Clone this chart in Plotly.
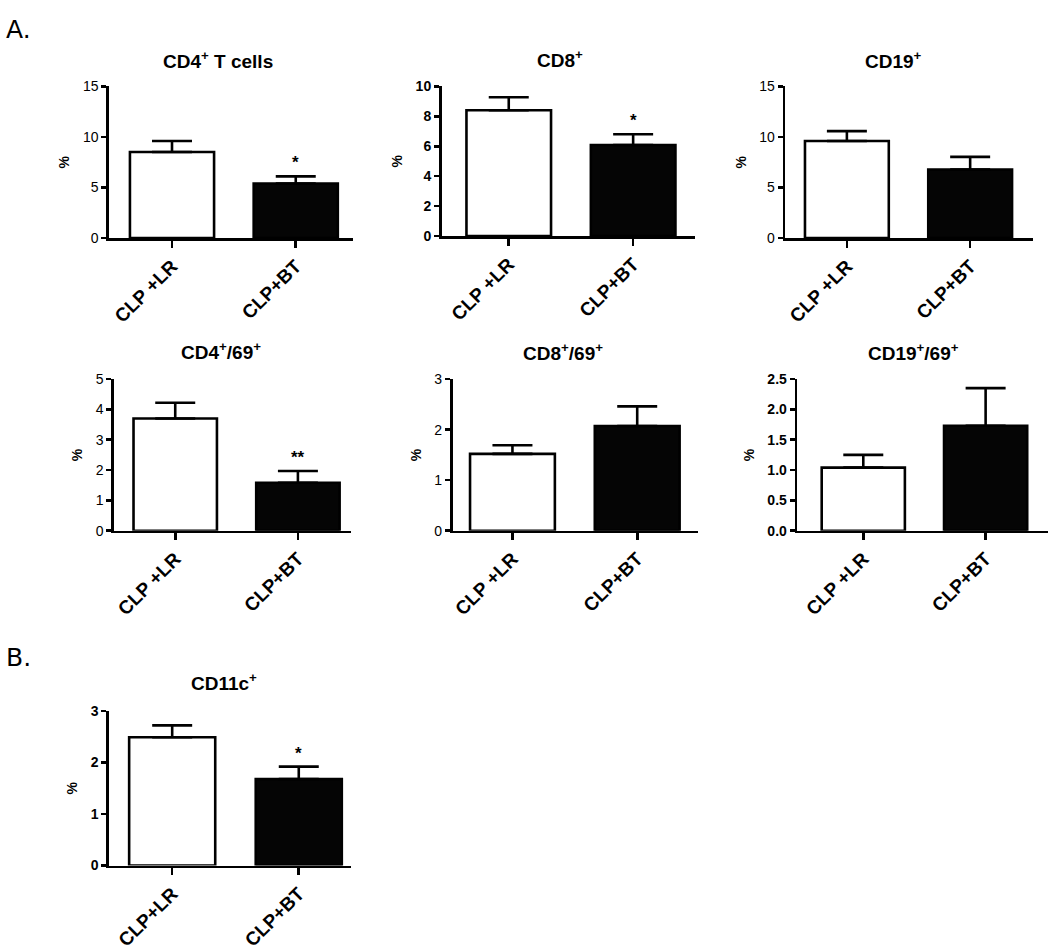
import plotly.graph_objects as go

# ---- data ----
panel_titles = ["CD4<sup>+</sup> T cells", "CD8<sup>+</sup>", "CD19<sup>+</sup>",
                "CD4<sup>+</sup>/69<sup>+</sup>", "CD8<sup>+</sup>/69<sup>+</sup>",
                "CD19<sup>+</sup>/69<sup>+</sup>", "CD11c<sup>+</sup>"]
groups_A = ["CLP +LR", "CLP+BT"]
groups_B = ["CLP+LR", "CLP+BT"]
panel_groups = [groups_A] * 6 + [groups_B]
lr_mean = [8.5, 8.4, 9.6, 3.7, 1.52, 1.04, 2.49]
lr_err = [1.1, 0.87, 0.97, 0.52, 0.17, 0.21, 0.23]
bt_mean = [5.4, 6.08, 6.77, 1.58, 2.07, 1.73, 1.68]
bt_err = [0.7, 0.72, 1.26, 0.39, 0.39, 0.62, 0.24]
bt_sig = ["*", "*", "", "**", "", "", "*"]
y_max = [15, 10, 15, 5, 3, 2.5, 3]
y_dtick = [5, 2, 5, 1, 1, 0.5, 1]
y_fmt = ["", "", "", "", "", ".1f", ""]
y_tick_weight = ["normal", "bold", "normal", "normal", "normal", "bold", "bold"]

# ---- layout (pixel boxes: left, right, top, bottom) ----
W, H = 1050, 951
boxes = [(108, 352, 80, 235), (441, 695, 80, 233), (785, 1033, 80, 235),
         (113, 350, 379, 534), (452, 698, 379, 534), (797, 1048, 379, 534),
         (108, 350, 718, 876)]
title_pos = [(217, 53), (560, 52), (893, 53), (220, 350), (563, 351), (913, 351), (223, 688)]
x_ranges = [(-0.51, 1.46), (-0.54, 1.5), (-0.5, 1.51), (-0.5, 1.43), (-0.48, 1.49),
            (-0.54, 1.51), (-0.5, 1.41)]


def px(x):
    return min(1.0, max(0.0, x / W))


def py(y):
    return min(1.0, max(0.0, 1 - y / H))


FONT = "Liberation Sans, Arial, sans-serif"
fig = go.Figure()
annotations = []

for i in range(7):
    ax = "" if i == 0 else str(i + 1)
    xa, ya = "x" + ax, "y" + ax
    cats = panel_groups[i]
    fig.add_trace(go.Bar(
        x=cats, y=[lr_mean[i], bt_mean[i]], xaxis=xa, yaxis=ya,
        width=0.68,
        marker=dict(color=["white", "#050505"], line=dict(color="black", width=2.6)),
        error_y=dict(type="data", symmetric=False, array=[lr_err[i], bt_err[i]],
                     arrayminus=[0, 0], color="black", thickness=2.6, width=20),
        showlegend=False, hoverinfo="skip"))
    l, r, t, b = boxes[i]
    fig.update_layout(**{
        "xaxis" + ax: dict(domain=[px(l), px(r)], anchor=ya, range=list(x_ranges[i]), type="category",
                           showline=True, linecolor="black", linewidth=2.6,
                           ticks="outside", ticklen=7, tickwidth=2.6, tickcolor="black",
                           tickangle=-45, showgrid=False, zeroline=False,
                           tickfont=dict(family=FONT, size=19, color="black", weight="bold")),
        "yaxis" + ax: dict(domain=[py(b), py(t)], anchor=xa, range=[0, y_max[i]], dtick=y_dtick[i],
                           tick0=0, tickformat=y_fmt[i],
                           showline=True, linecolor="black", linewidth=2.6,
                           ticks="outside", ticklen=5, tickwidth=2.6, tickcolor="black",
                           showgrid=False, zeroline=False,
                           tickfont=dict(family=FONT, size=14, color="black",
                                         weight=y_tick_weight[i]),
                           title=dict(text="%", standoff=10,
                                      font=dict(family=FONT, size=14, color="black", weight="bold"))),
    })
    tx, ty = title_pos[i]
    annotations.append(dict(text=panel_titles[i], x=px(tx), y=py(ty), xref="paper", yref="paper",
                            showarrow=False, xanchor="center", yanchor="middle",
                            font=dict(family=FONT, size=19, color="black", weight="bold")))
    if bt_sig[i]:
        annotations.append(dict(text=bt_sig[i], x=cats[1], y=bt_mean[i] + bt_err[i],
                                xref=xa, yref=ya, showarrow=False, yanchor="bottom",
                                yshift=2,
                                font=dict(family=FONT, size=17, color="black", weight="bold")))

annotations.append(dict(text="A.", x=px(3), y=py(22), xref="paper", yref="paper", showarrow=False,
                        xanchor="left", yanchor="middle",
                        font=dict(family="DejaVu Sans, Verdana, sans-serif", size=25, color="black")))
annotations.append(dict(text="B.", x=px(3), y=py(663), xref="paper", yref="paper", showarrow=False,
                        xanchor="left", yanchor="middle",
                        font=dict(family="DejaVu Sans, Verdana, sans-serif", size=25, color="black")))

fig.update_layout(width=W, height=H, margin=dict(l=0, r=0, t=0, b=0),
                  paper_bgcolor="white", plot_bgcolor="white",
                  annotations=annotations)
fig.write_html("out.html", config={"displayModeBar": False, "staticPlot": True},
               post_script="document.body.style.margin='0px';document.body.style.overflow='hidden';")
